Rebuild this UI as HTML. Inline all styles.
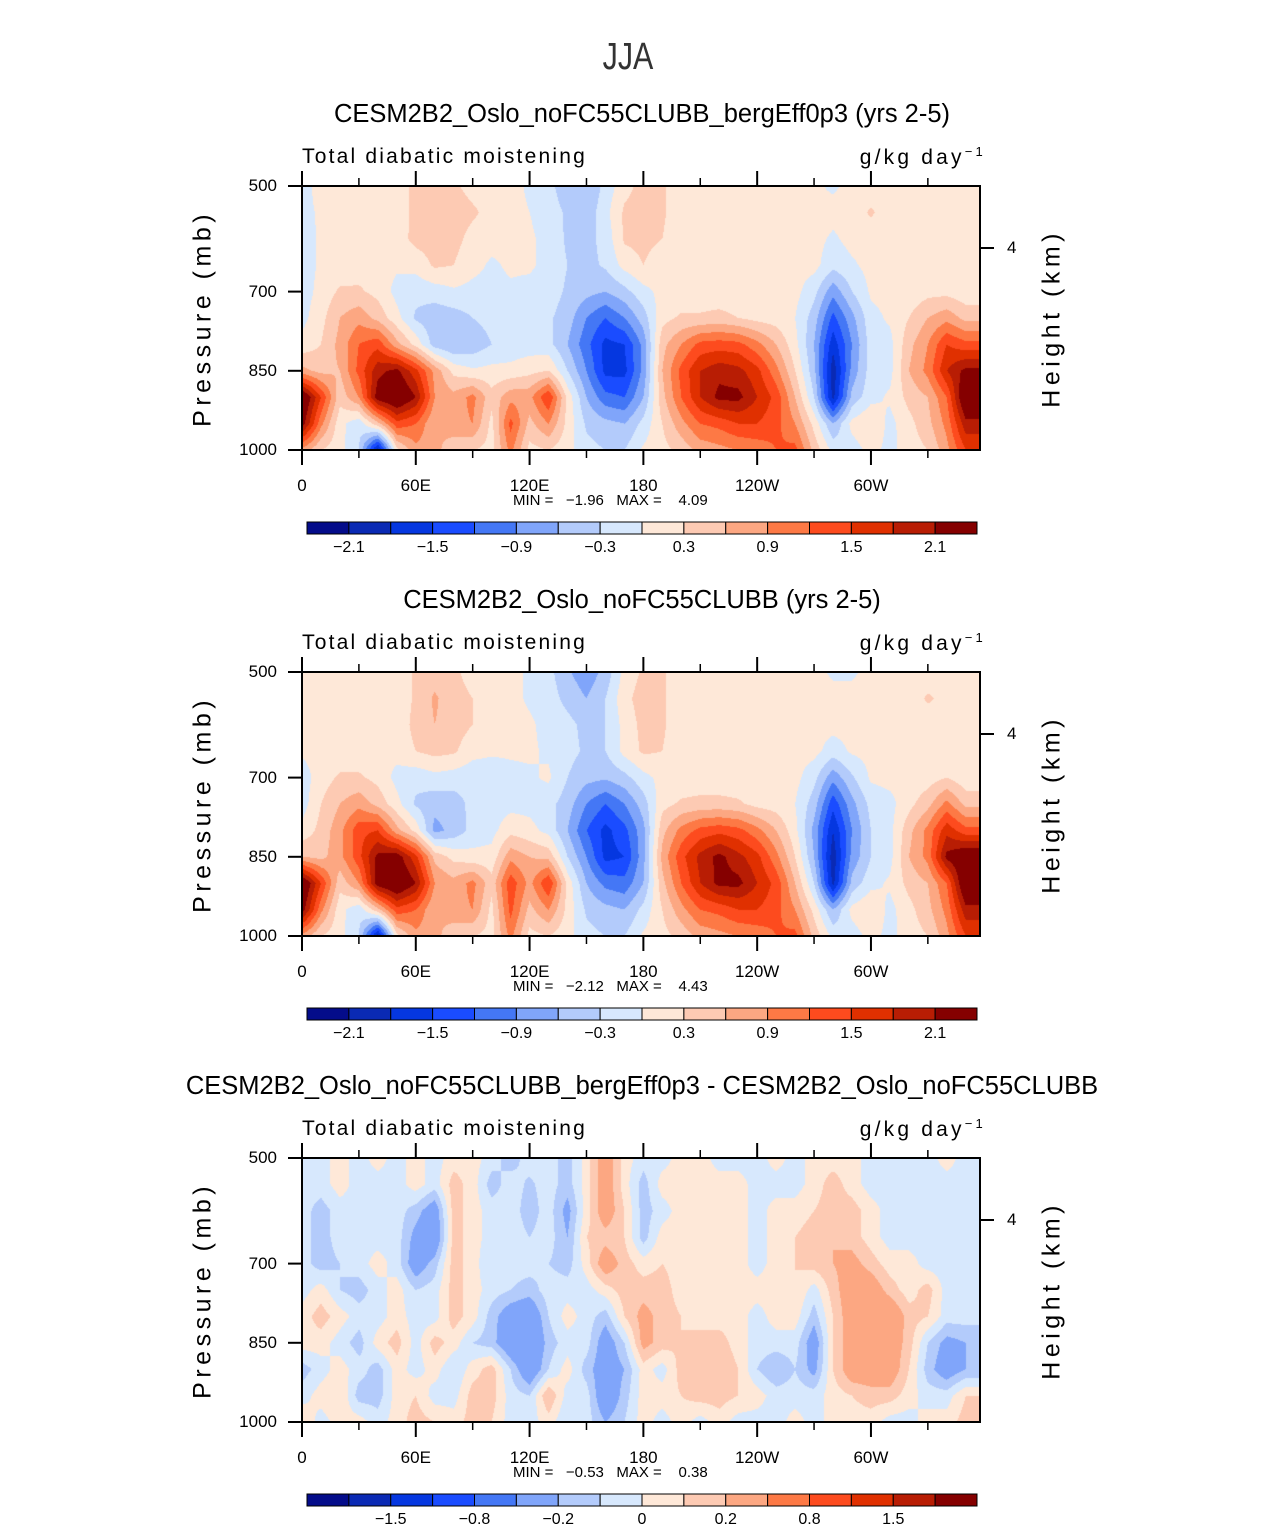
<!DOCTYPE html>
<html><head><meta charset="utf-8">
<style>
html,body{margin:0;background:#fff;width:1285px;height:1531px;overflow:hidden;}
#root{position:relative;width:1285px;height:1531px;overflow:hidden;background:#fff;font-family:"Liberation Sans",sans-serif;color:#000;}
.t{position:absolute;white-space:nowrap;line-height:1.15;}
canvas{position:absolute;}
svg{position:absolute;left:0;top:0;}
</style></head>
<body>
<div id="root">
<div class="t" style="left:0;width:1256px;text-align:center;top:36px;font-size:38px;font-weight:normal;color:#333;transform:scaleX(0.8);transform-origin:628px 0;">JJA</div>
<svg id="ov" width="1285" height="1531"></svg>
</div>
<script>
// ---- data ----
const lonCats=[0,10,20,30,40,50,60,70,80,90,100,110,120,130,140,150,160,170,180,190,200,210,220,230,240,250,260,270,280,290,300,310,320,330,340,350];
const presLevels=[500,550,600,650,700,750,800,850,900,950,1000];
const xTickLabels=["0","60E","120E","180","120W","60W"];
const xTickLons=[0,60,120,180,240,300];
const yTickLabels=["500","700","850","1000"];
const yTickVals=[500,700,850,1000];
const levelsAbs=[-2.1,-1.8,-1.5,-1.2,-0.9,-0.6,-0.3,0,0.3,0.6,0.9,1.2,1.5,1.8,2.1];
const levelsDiff=[-2,-1.5,-1,-0.8,-0.5,-0.2,-0.1,0,0.1,0.2,0.5,0.8,1,1.5,2];
const cbLabelsAbs=["\u22122.1","\u22121.5","\u22120.9","\u22120.3","0.3","0.9","1.5","2.1"];
const cbLabelIdxAbs=[0,2,4,6,8,10,12,14];
const cbLabelsDiff=["\u22121.5","\u22120.8","\u22120.2","0","0.2","0.8","1.5"];
const cbLabelIdxDiff=[1,3,5,7,9,11,13];
const palette=["#040c8a","#0a2ab4","#0537e0","#1a4cff","#4477f5","#80a5fa","#b3cbfb","#d7e8fd","#fee8d8","#fdcab3","#fca782","#fd7945","#fd4b1e","#e03000","#b81d04","#850000"];
const minMax1=["\u22121.96","4.09"];
const minMax2=["\u22122.12","4.43"];
const minMax3=["\u22120.53","0.38"];

const panel1Values=[
[-0.1,0.1,0.1,0.1,0.1,0.1,0.4,0.4,0.35,0.2,0.15,0.1,-0.05,-0.2,-0.5,-0.6,-0.2,0.2,0.4,0.35,0.1,0.1,0.1,0.1,0.1,0.1,0.1,0.05,-0.05,0.1,0.1,0.1,0.1,0.1,0.1,0.1],
[-0.1,0.05,0.1,0.1,0.1,0.1,0.4,0.5,0.45,0.35,0.2,0.1,0,-0.15,-0.35,-0.5,-0.1,0.35,0.45,0.35,0.1,0.1,0.1,0.1,0.1,0.1,0.1,0.1,0.1,0.1,0.35,0.1,0.1,0.1,0.1,0.1],
[-0.15,0.05,0.1,0.1,0.1,0.15,0.4,0.45,0.4,0.2,0.1,0.1,0.05,-0.1,-0.35,-0.4,-0.2,0.35,0.4,0.3,0.1,0.1,0.1,0.1,0.1,0.1,0.1,0.1,-0.05,0.1,0.1,0.1,0.1,0.1,0.1,0.1],
[-0.15,0.05,0.1,0.15,0.1,0.05,0.1,0.35,0.3,0.1,-0.05,0.05,0.05,-0.1,-0.3,-0.4,-0.25,0.1,0.3,0.1,0.1,0.1,0.1,0.1,0.1,0.1,0.1,0.1,-0.2,-0.05,0.1,0.1,0.1,0.1,0.1,0.1],
[-0.15,0.1,0.35,0.35,0.2,-0.1,-0.2,-0.15,-0.05,-0.1,-0.1,-0.05,-0.1,-0.15,-0.35,-0.5,-0.6,-0.4,-0.1,0.1,0.1,0.1,0.1,0.1,0.1,0.1,0.1,-0.2,-0.8,-0.3,0.05,0.1,0.1,0.2,0.2,0.1],
[-0.1,0.2,0.6,0.8,0.5,0.1,-0.35,-0.5,-0.45,-0.3,-0.2,-0.2,-0.2,-0.25,-0.45,-0.9,-1.2,-0.9,-0.45,0.2,0.35,0.35,0.4,0.3,0.2,0.15,0,-0.45,-1.3,-0.7,-0.1,0.05,0.3,0.6,0.8,0.5],
[0.1,0.3,0.7,1.2,1.4,0.7,0.2,-0.45,-0.6,-0.5,-0.3,-0.2,-0.15,-0.2,-0.6,-1.1,-1.6,-1.5,-0.8,0.5,0.9,1.3,1.35,1.3,1.0,0.6,0.1,-0.6,-1.7,-0.9,-0.15,-0.1,0.5,0.9,1.5,1.3],
[0.7,0.5,0.6,1.3,2.0,2.2,1.6,0.8,0.2,0.05,0.1,0.1,0.2,0.3,-0.3,-0.9,-1.6,-1.6,-0.8,0.6,1.3,1.8,2.0,1.9,1.6,1.0,0.3,-0.5,-2.0,-0.8,-0.15,-0.1,0.6,1.0,1.8,2.2],
[2.6,1.5,0.4,0.9,2.3,2.6,2.1,0.9,0.7,1.0,0.4,0.8,0.8,1.5,0.2,-0.6,-1.1,-1.2,-0.6,0.5,1.2,1.8,2.2,2.2,1.8,1.4,0.6,-0.3,-1.9,-0.5,-0.1,0.05,0.4,0.6,1.2,2.6],
[2.3,1.0,0.1,-0.2,0.5,1.4,1.2,0.6,0.8,0.9,0.2,1.3,0.5,0.9,0.2,-0.35,-0.5,-0.6,-0.2,0.3,0.8,1.2,1.3,1.5,1.5,1.3,0.9,0.2,-0.6,0.1,0.3,-0.1,0.2,0.5,1.0,2.0],
[0.8,0.3,0.1,-0.3,-2.0,0.2,0.8,0.7,0.4,0.3,0.2,1.0,0.2,0.3,0.1,-0.2,-0.3,-0.3,0.05,0.2,0.4,0.7,0.8,0.9,1.0,1.2,1.3,0.5,-0.1,-0.15,0.1,-0.1,0.15,0.3,0.8,1.5]
];
const panel2Values=[
[0.1,0.1,0.1,0.1,0.1,0.1,0.35,0.45,0.35,0.2,0.1,0.1,-0.05,-0.2,-0.55,-0.8,-0.5,0.1,0.35,0.35,0.1,0.1,0.1,0.1,0.1,0.1,0.1,0.1,-0.05,-0.05,0.1,0.1,0.1,0.1,0.1,0.1],
[0.1,0.1,0.1,0.1,0.1,0.1,0.35,0.65,0.4,0.3,0.1,0.1,-0.05,-0.15,-0.4,-0.6,-0.3,0.2,0.45,0.35,0.1,0.1,0.1,0.1,0.1,0.1,0.1,0.1,0.1,0.1,0.1,0.1,0.1,0.35,0.2,0.1],
[0.1,0.1,0.1,0.1,0.1,0.1,0.4,0.6,0.45,0.3,0.1,0.1,0.05,-0.1,-0.2,-0.4,-0.3,0.1,0.4,0.35,0.1,0.1,0.1,0.1,0.1,0.1,0.1,0.1,0.1,0.1,0.1,0.1,0.1,0.1,0.1,0.1],
[0.05,0.1,0.1,0.1,0.1,0.1,0.3,0.4,0.35,0.1,0.05,0.05,0.05,-0.05,-0.2,-0.35,-0.3,0.1,0.35,0.3,0.1,0.1,0.1,0.1,0.1,0.1,0.1,0.1,-0.15,0.05,0.1,0.1,0.1,0.1,0.1,0.1],
[-0.15,0.15,0.35,0.35,0.2,-0.1,-0.2,-0.1,-0.15,-0.2,-0.2,-0.1,-0.05,0.05,-0.3,-0.5,-0.55,-0.4,-0.1,0.1,0.1,0.1,0.1,0.1,0.1,0.1,0.1,-0.2,-0.8,-0.35,0.05,0.1,0.1,0.15,0.3,0.1],
[-0.15,0.3,0.6,0.8,0.5,0.1,-0.35,-0.5,-0.45,-0.2,-0.15,-0.1,-0.1,-0.2,-0.45,-0.9,-1.2,-0.9,-0.45,0.2,0.35,0.4,0.4,0.35,0.2,0.15,0,-0.45,-1.4,-0.7,-0.2,-0.1,0.2,0.5,1.0,0.5],
[0.1,0.4,0.8,1.4,1.5,0.7,0.2,-0.7,-0.5,-0.2,-0.1,0.2,0.1,-0.1,-0.6,-1.2,-1.6,-1.3,-0.7,0.5,1.0,1.3,1.4,1.3,1.0,0.6,0.1,-0.7,-1.8,-0.9,-0.3,-0.1,0.5,1.0,1.7,1.3],
[0.6,0.5,0.8,1.4,2.2,2.3,1.6,0.5,0.2,0.1,0.1,0.8,0.6,0.5,-0.3,-0.9,-1.6,-1.5,-0.7,0.7,1.4,1.9,2.2,1.9,1.6,1.0,0.3,-0.6,-2.0,-0.8,-0.3,-0.1,0.6,1.0,2.2,2.5],
[2.6,1.5,0.4,0.9,2.3,2.6,2.1,0.9,0.7,1.0,0.4,1.4,0.8,1.5,0.2,-0.6,-1.0,-1.1,-0.6,0.5,1.2,1.8,2.2,2.2,1.8,1.4,0.6,-0.3,-1.9,-0.5,-0.1,0.05,0.4,0.6,1.2,2.6],
[2.3,1.0,0.1,-0.2,0.5,1.4,1.2,0.6,0.8,0.9,0.2,1.3,0.5,0.9,0.2,-0.35,-0.5,-0.6,-0.2,0.3,0.8,1.2,1.3,1.5,1.5,1.3,0.9,0.2,-0.6,0.1,0.3,-0.1,0.2,0.5,1.0,2.0],
[0.8,0.3,0.1,-0.3,-2.0,0.2,0.8,0.7,0.4,0.3,0.2,1.0,0.2,0.3,0.1,-0.2,-0.3,-0.3,0.05,0.2,0.4,0.7,0.8,0.9,1.0,1.2,1.3,0.5,-0.1,-0.15,0.1,-0.1,0.15,0.3,0.8,1.5]
];
const panel3Values=[
[-0.05,-0.05,0.05,-0.05,0.05,-0.05,0.05,-0.05,0.05,0.05,-0.05,-0.15,-0.05,-0.05,-0.15,0.05,0.3,0.05,-0.05,-0.05,0.05,0.05,-0.05,-0.05,-0.05,0.05,-0.05,0.05,0.05,0.05,-0.05,-0.05,-0.05,-0.05,0.05,-0.05],
[-0.05,-0.05,0.05,-0.05,-0.05,-0.05,0.05,-0.05,0.15,0.05,-0.15,-0.05,-0.12,-0.05,-0.15,0.05,0.3,0.05,-0.15,0.05,0.05,0.05,0.05,0.05,-0.05,-0.05,-0.05,0.05,0.15,0.05,-0.05,-0.05,-0.05,-0.05,-0.05,-0.05],
[-0.05,-0.15,-0.05,-0.05,-0.05,-0.05,-0.15,-0.3,0.15,0.05,-0.05,-0.05,-0.15,-0.05,-0.25,0.05,0.3,0.1,-0.15,-0.05,0.05,0.05,0.05,0.05,-0.05,0.05,0.05,0.1,0.15,0.15,0.05,-0.05,-0.05,-0.05,-0.05,-0.05],
[-0.05,-0.15,-0.05,-0.05,-0.05,-0.05,-0.25,-0.35,0.15,0.05,-0.05,-0.05,-0.1,-0.05,-0.2,0.1,0.15,0.1,-0.15,0.05,0.05,0.05,0.05,0.05,-0.05,0.05,0.1,0.15,0.2,0.15,0.05,-0.05,-0.05,-0.05,-0.05,-0.05],
[-0.05,-0.15,-0.1,-0.05,0.05,-0.05,-0.3,-0.15,0.15,0.05,-0.1,-0.05,-0.05,-0.1,-0.15,0.05,0.3,0.15,0.05,0.1,0.05,0.05,0.05,0.05,-0.05,0.05,0.1,0.15,0.2,0.25,0.15,0.05,0.05,-0.05,-0.05,-0.05],
[-0.05,0.05,-0.1,-0.15,-0.05,0.05,-0.1,-0.05,0.15,0.05,-0.05,-0.1,-0.15,-0.05,-0.05,-0.05,0.05,0.15,0.15,0.15,0.05,0.05,0.05,0.05,0.05,0.05,0.1,-0.05,0.15,0.3,0.3,0.15,0.05,0.15,-0.05,-0.05],
[0.05,0.15,0.05,-0.05,-0.05,0.05,-0.05,-0.05,0.15,0.05,-0.15,-0.3,-0.35,-0.1,0.05,-0.05,-0.15,0.1,0.25,0.15,0.1,0.05,0.05,0.05,-0.05,0.05,0.05,-0.15,0.1,0.3,0.35,0.35,0.15,0.1,-0.05,-0.05],
[0.05,0.05,-0.05,-0.15,0.05,0.15,-0.05,0.15,0.05,-0.1,-0.15,-0.35,-0.4,-0.15,-0.05,-0.05,-0.3,-0.1,0.25,0.15,0.1,0.15,0.15,0.05,-0.05,-0.05,-0.05,-0.3,0.1,0.3,0.35,0.3,0.15,-0.1,-0.25,-0.2],
[-0.15,-0.05,0.05,-0.05,-0.15,0.05,-0.05,0.05,-0.1,0.05,0.15,-0.1,-0.35,-0.1,0.05,-0.15,-0.3,-0.2,0.05,-0.05,0.15,0.2,0.2,0.1,-0.1,-0.2,-0.1,-0.25,0.1,0.3,0.3,0.3,0.1,-0.15,-0.3,-0.2],
[-0.05,0.05,0.1,-0.15,-0.15,0.05,0.1,-0.05,-0.05,0.15,0.15,-0.05,-0.1,0.2,-0.05,-0.05,-0.35,-0.15,0.05,0.05,0.1,0.15,0.15,0.1,0.05,-0.05,-0.05,-0.05,0.05,0.1,0.15,0.15,0.05,-0.05,-0.05,0.1],
[0.1,-0.05,0.05,0.05,-0.05,0.05,0.15,0.1,0.05,0.15,0.1,-0.05,-0.05,0.05,-0.1,-0.05,-0.2,-0.1,0.05,-0.05,0.05,-0.05,0.05,-0.05,-0.05,-0.05,0.05,-0.05,0.05,0.05,0.05,-0.05,-0.05,0.05,0.05,0.15]
];

// ---- layout ----
const PX0=302, PW=678, PH=264, LONMAX=357.5;
const panels=[
 {top:186,title:"CESM2B2_Oslo_noFC55CLUBB_bergEff0p3 (yrs 2-5)",vals:panel1Values,lev:levelsAbs,cbl:cbLabelsAbs,cbi:cbLabelIdxAbs,mm:minMax1,name:"panel-bergeff"},
 {top:672,title:"CESM2B2_Oslo_noFC55CLUBB (yrs 2-5)",vals:panel2Values,lev:levelsAbs,cbl:cbLabelsAbs,cbi:cbLabelIdxAbs,mm:minMax2,name:"panel-control"},
 {top:1158,title:"CESM2B2_Oslo_noFC55CLUBB_bergEff0p3 - CESM2B2_Oslo_noFC55CLUBB",vals:panel3Values,lev:levelsDiff,cbl:cbLabelsDiff,cbi:cbLabelIdxDiff,mm:minMax3,name:"panel-difference"}
];
function xScale(lon){return PX0+lon*PW/LONMAX;}
function yScale(p,top){return top+(p-500)*PH/500;}
const root=document.getElementById('root');
const ov=document.getElementById('ov');
const NS="http://www.w3.org/2000/svg";
function hexRGB(h){return [parseInt(h.slice(1,3),16),parseInt(h.slice(3,5),16),parseInt(h.slice(5,7),16)];}
const palRGB=palette.map(hexRGB);
function txt(s,x,y,size,anchor,name,half){
 const hw=half||600;
 const d=document.createElement('div');d.className='t';d.textContent=s;
 d.style.fontSize=size+'px';d.style.top=(y-size*0.58)+'px';
 if(anchor==='middle'){d.style.left=(x-hw)+'px';d.style.width=(2*hw)+'px';d.style.textAlign='center';}
 else if(anchor==='end'){d.style.left=(x-300)+'px';d.style.width='300px';d.style.textAlign='right';}
 else d.style.left=x+'px';
 
 
 root.appendChild(d);return d;
}
function line(x1,y1,x2,y2,w,name){
 const l=document.createElementNS(NS,'line');
 l.setAttribute('x1',x1);l.setAttribute('y1',y1);l.setAttribute('x2',x2);l.setAttribute('y2',y2);
 l.setAttribute('stroke','#000');l.setAttribute('stroke-width',w);
 
 
 ov.appendChild(l);
}
function classOf(v,lev){let c=0;while(c<lev.length&&v>=lev[c])c++;return c;}
function sample(vals,lon,p){
 const fi=Math.min(Math.max(lon/10,0),lonCats.length-1);
 const fj=Math.min(Math.max((p-500)/50,0),presLevels.length-1);
 const i0=Math.floor(fi),j0=Math.floor(fj);
 const i1=Math.min(i0+1,lonCats.length-1),j1=Math.min(j0+1,presLevels.length-1);
 const a=fi-i0,b=fj-j0;
 return (vals[j0][i0]*(1-a)+vals[j0][i1]*a)*(1-b)+(vals[j1][i0]*(1-a)+vals[j1][i1]*a)*b;
}
panels.forEach((P,k)=>{
 const T=P.top;
 const cv=document.createElement('canvas');cv.width=PW;cv.height=PH;
 cv.style.left=PX0+'px';cv.style.top=T+'px';
 
 
 root.insertBefore(cv,ov);
 const ctx=cv.getContext('2d');const img=ctx.createImageData(PW,PH);
 for(let py=0;py<PH;py++){const p=500+(py+0.5)*500/PH;
  for(let px=0;px<PW;px++){const lon=(px+0.5)*LONMAX/PW;
   const c=palRGB[classOf(sample(P.vals,lon,p),P.lev)];const o=(py*PW+px)*4;
   img.data[o]=c[0];img.data[o+1]=c[1];img.data[o+2]=c[2];img.data[o+3]=255;}}
 ctx.putImageData(img,0,0);
 const r=document.createElementNS(NS,'rect');
 r.setAttribute('x',PX0);r.setAttribute('y',T);r.setAttribute('width',PW);r.setAttribute('height',PH);
 r.setAttribute('fill','none');r.setAttribute('stroke','#000');r.setAttribute('stroke-width',2);
 
 
 ov.appendChild(r);
 for(let lon=0;lon<=LONMAX;lon+=30){const maj=lon%60===0;const x=xScale(lon);const L=maj?15:8;
  line(x,T,x,T-L,maj?2:1.5,'x-tick-top');line(x,T+PH,x,T+PH+L,maj?2:1.5,'x-tick-bottom');}
 xTickLons.forEach((lon,i)=>txt(xTickLabels[i],xScale(lon),T+PH+36,17,'middle','x-tick-label',40));
 yTickVals.forEach((p,i)=>{const y=yScale(p,T);line(PX0-14,y,PX0,y,2,'y-tick');
  txt(yTickLabels[i],277,y,17,'end','y-tick-label');});
 line(PX0+PW,T+62,PX0+PW+14,T+62,2,'height-tick');
 txt("4",1007,T+62,17,'start','height-tick-label');
 txt(P.title,642,T-71,25.5,'middle','panel-title',580);
 txt("Total diabatic moistening",PX0,T-29,21,'start','variable-label').style.letterSpacing='2.2px';
 const u=txt("",986,T-29,21,'end','units-label');u.innerHTML='g/kg day<sup style="font-size:13px;vertical-align:8px">\u22121</sup>';u.style.letterSpacing='3.2px';
 const pl=txt("Pressure (mb)",203,T+132,25,'middle','y-axis-title',130);pl.style.transform='rotate(-90deg)';pl.style.letterSpacing='4.5px';
 const hl=txt("Height (km)",1052,T+132,25,'middle','right-axis-title',130);hl.style.transform='rotate(-90deg)';hl.style.letterSpacing='4.5px';
 const mm=txt("MIN =   "+P.mm[0]+"   MAX =    "+P.mm[1],513,T+315,15,'start','min-max-label');mm.style.whiteSpace='pre';
 const cbx=307,cbw=670,cby=T+336,cbh=12,bw=cbw/16;
 palette.forEach((col,i)=>{const b=document.createElementNS(NS,'rect');
  b.setAttribute('x',cbx+i*bw);b.setAttribute('y',cby);b.setAttribute('width',bw);b.setAttribute('height',cbh);
  b.setAttribute('fill',col);b.setAttribute('stroke','#000');b.setAttribute('stroke-width',1);
  
  
  ov.appendChild(b);});
 P.cbi.forEach((bi,i)=>txt(P.cbl[i],cbx+(bi+1)*bw,cby+26,16,'middle','colorbar-label',30));
});
</script>
</body></html>
